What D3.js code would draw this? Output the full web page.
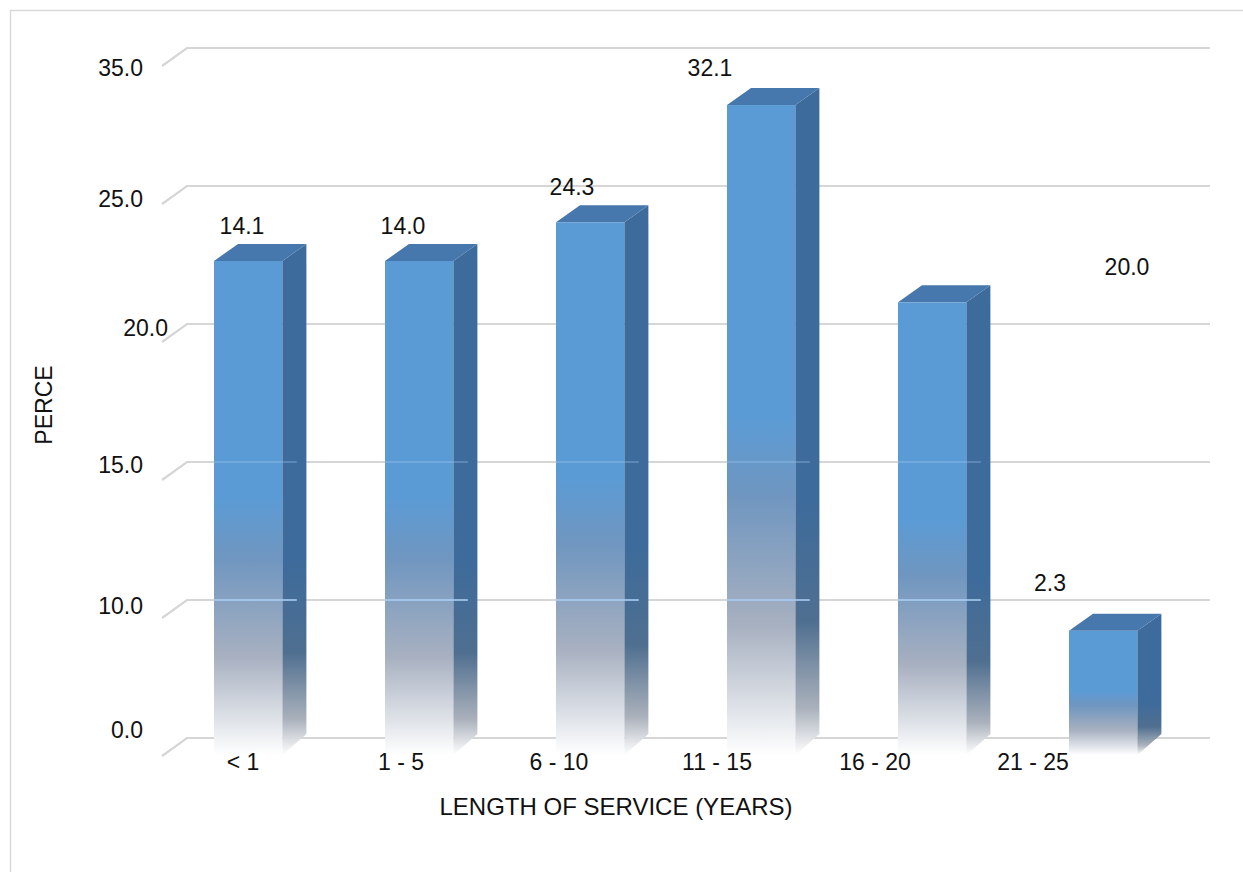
<!DOCTYPE html>
<html>
<head>
<meta charset="utf-8">
<script src="https://cdn.jsdelivr.net/npm/d3@7"></script>
<style>
  html, body { margin: 0; padding: 0; background: #fff; }
  svg { display: block; font-family: "Liberation Sans", Arial, sans-serif; }
</style>
</head>
<body>
<svg id="chart" width="1243" height="872"></svg>
<script>
// Length of service breakdown (3D column chart)
const categories = ["< 1", "1 - 5", "6 - 10", "11 - 15", "16 - 20", "21 - 25"];
const percentValues = [22.9, 22.9, 24.3, 32.1, 21.4, 9.0];
const valueLabels = ["14.1", "14.0", "24.3", "32.1", "20.0", "2.3"];
const tickValues = [0, 10, 15, 20, 25, 35];
const tickLabels = ["0.0", "10.0", "15.0", "20.0", "25.0", "35.0"];
const xTitle = "LENGTH OF SERVICE (YEARS)";
const yTitle = "PERCE";

const svg = d3.select("#chart");
const W = 1243, H = 872;

// 3D depth offset of the back wall
const DX = 24, DY = 17;
const wallLeft = 187, wallRight = 1210;
const yBottom = 738, yTop = 48;
const fontSize = 23;

// Gridlines are evenly spaced, one per tick label
const y = d3.scaleLinear()
  .domain(tickValues)
  .range(tickValues.map((_, i) => yBottom - i * (yBottom - yTop) / (tickValues.length - 1)));

const x = d3.scaleBand()
  .domain(categories)
  .range([214, 214 + 171 * (categories.length - 0.6)])
  .paddingInner(0.6)
  .paddingOuter(0);

const xLabel = d3.scalePoint()
  .domain(categories)
  .range([243, 1033]);

// chart frame
svg.append("rect")
  .attr("x", 10.5).attr("y", 10.5)
  .attr("width", W).attr("height", H)
  .attr("fill", "none").attr("stroke", "#d9d9d9").attr("stroke-width", 1.5);

const defs = svg.append("defs");
function vGrad(id, stops) {
  const g = defs.append("linearGradient").attr("id", id)
    .attr("x1", 0).attr("y1", 0).attr("x2", 0).attr("y2", 1);
  stops.forEach(s => g.append("stop").attr("offset", s[0]).attr("stop-color", s[1]));
}
vGrad("frontGrad", [[0, "#5b9bd5"], [0.48, "#5b9bd5"], [0.6, "#6f96c0"], [0.8, "#a7b0c0"], [0.95, "#e8ebef"], [1, "#ffffff"]]);
vGrad("sideGrad", [[0, "#3d6b9b"], [0.62, "#3d6b9b"], [0.8, "#4f6f90"], [0.93, "#aab1bb"], [1, "#ffffff"]]);

// back-wall gridlines with their 3D slant at the left
const grid = svg.append("g").attr("class", "grid");
tickValues.forEach(v => {
  const gy = y(v);
  grid.append("path")
    .attr("d", `M${wallLeft - DX - 1},${gy + DY + 1}L${wallLeft},${gy}L${wallRight},${gy}`)
    .attr("fill", "none").attr("stroke", "#d6d6d6").attr("stroke-width", 2.2);
});

// tick labels
const tickNudge = { "35.0": [0, 20], "25.0": [0, 13], "20.0": [25, 4], "15.0": [0, 3], "10.0": [0, 6], "0.0": [0, -8] };
svg.append("g").selectAll("text")
  .data(tickValues)
  .join("text")
  .attr("x", (d, i) => 143 + tickNudge[tickLabels[i]][0])
  .attr("y", (d, i) => y(d) + tickNudge[tickLabels[i]][1])
  .attr("text-anchor", "end")
  .attr("dominant-baseline", "central")
  .attr("font-size", fontSize)
  .attr("fill", "#111")
  .text((d, i) => tickLabels[i]);

// bars
const bars = svg.append("g").attr("class", "bars");
const rows = categories.map((c, i) => ({ c, v: percentValues[i], label: valueLabels[i], i }));
rows.forEach(r => {
  const x0 = x(r.c), bw = x.bandwidth();
  const backTop = y(r.v);
  const frontTop = backTop + DY;
  const frontBottom = y(0) + DY;
  const g = bars.append("g");
  // front face
  g.append("rect")
    .attr("x", x0).attr("y", frontTop)
    .attr("width", bw).attr("height", frontBottom - frontTop)
    .attr("fill", "url(#frontGrad)");
  // side face
  g.append("path")
    .attr("d", `M${x0 + bw},${frontTop}L${x0 + bw + DX},${backTop}L${x0 + bw + DX},${y(0) - 4}L${x0 + bw},${frontBottom}Z`)
    .attr("fill", "url(#sideGrad)");
  // top face
  g.append("path")
    .attr("d", `M${x0},${frontTop}L${x0 + DX},${backTop}L${x0 + bw + DX},${backTop}L${x0 + bw},${frontTop}Z`)
    .attr("fill", "#4677ad");
});

// gridline reflections across the fading part of the bars
[10, 15].forEach((v, k) => {
  rows.forEach(r => {
    if (r.v <= v) return;
    svg.append("line")
      .attr("x1", x(r.c)).attr("x2", x(r.c) + x.bandwidth() + DX * 0.6)
      .attr("y1", y(v)).attr("y2", y(v))
      .attr("stroke", "#a9cdf2").attr("stroke-opacity", k === 0 ? 0.8 : 0.3)
      .attr("stroke-width", 2);
  });
});

// value labels
const labelNudge = [[-1, 0], [2, 0], [13, 0], [-7, -2], [252, 0], [17, -13]];
svg.append("g").selectAll("text")
  .data(rows)
  .join("text")
  .attr("x", d => xLabel(d.c) + labelNudge[d.i][0])
  .attr("y", d => y(d.v) - 18 + labelNudge[d.i][1])
  .attr("text-anchor", "middle")
  .attr("dominant-baseline", "central")
  .attr("font-size", fontSize)
  .attr("fill", "#111")
  .text(d => d.label);

// category labels
svg.append("g").selectAll("text")
  .data(categories)
  .join("text")
  .attr("x", d => xLabel(d))
  .attr("y", 762)
  .attr("text-anchor", "middle")
  .attr("dominant-baseline", "central")
  .attr("font-size", fontSize)
  .attr("fill", "#111")
  .text(d => d);

// axis titles
svg.append("text")
  .attr("x", 616).attr("y", 806)
  .attr("text-anchor", "middle")
  .attr("dominant-baseline", "central")
  .attr("font-size", 24)
  .attr("fill", "#111")
  .text(xTitle);

svg.append("text")
  .attr("transform", "translate(44,405) rotate(-90)")
  .attr("text-anchor", "middle")
  .attr("dominant-baseline", "central")
  .attr("font-size", fontSize)
  .attr("fill", "#111")
  .text(yTitle);
</script>
</body>
</html>
